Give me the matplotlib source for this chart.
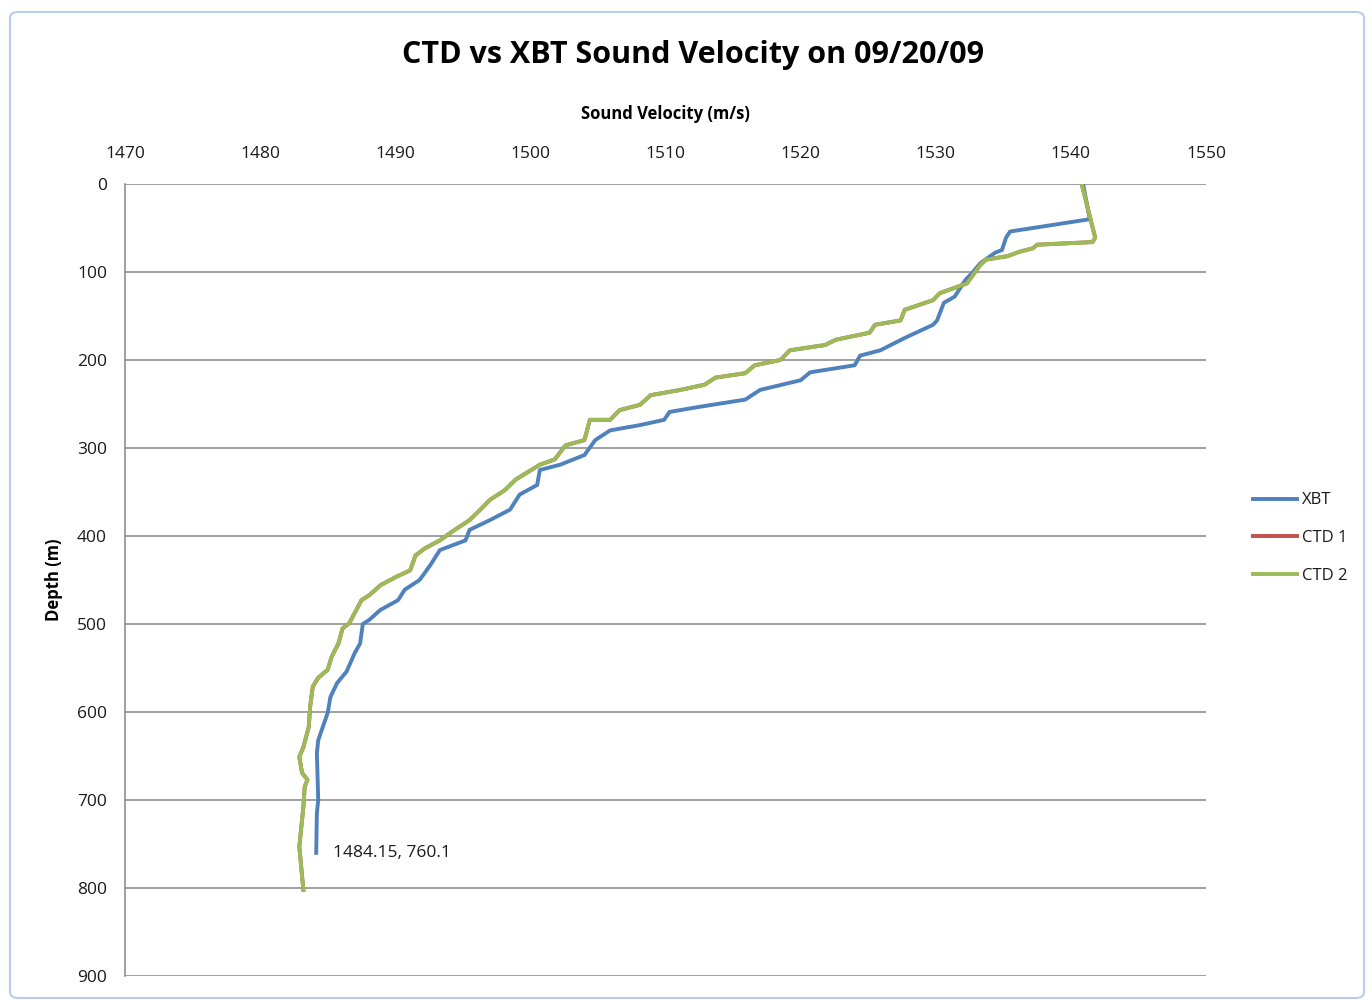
import matplotlib
matplotlib.use("Agg")
import matplotlib.pyplot as plt
from matplotlib.patches import FancyBboxPatch

plt.rcParams['font.family'] = ['Open Sans', 'DejaVu Sans']

title = "CTD vs XBT Sound Velocity on 09/20/09"
x_label = "Sound Velocity (m/s)"
y_label = "Depth (m)"
x_ticks = [1470, 1480, 1490, 1500, 1510, 1520, 1530, 1540, 1550]
y_ticks = [0, 100, 200, 300, 400, 500, 600, 700, 800, 900]

xbt_vel = [1540.9, 1541.4, 1535.5, 1535.2, 1534.9, 1534.4, 1533.3, 1532.7, 1532.2, 1531.4,
           1530.6, 1530.1, 1529.8, 1527.7, 1525.9, 1524.4, 1524.0, 1520.7, 1520.0, 1517.0,
           1515.9, 1512.6, 1510.3, 1509.9, 1508.1, 1505.9, 1504.8, 1504.0, 1502.2, 1500.7,
           1500.5, 1499.2, 1498.5, 1497.0, 1495.5, 1495.2, 1493.3, 1492.6, 1491.8, 1490.7,
           1490.2, 1488.9, 1488.1, 1487.6, 1487.4, 1487.0, 1486.4, 1485.7, 1485.2, 1485.0,
           1484.3, 1484.2, 1484.3, 1484.2, 1484.15]
xbt_depth = [0, 40, 54, 61, 75, 78, 90, 101, 109, 128,
             135, 155, 160, 175, 189, 195, 206, 214, 223, 234,
             245, 253, 259, 268, 274, 280, 291, 308, 319, 325,
             342, 353, 370, 382, 393, 405, 416, 433, 450, 461,
             473, 484, 495, 500, 522, 533, 554, 567, 583, 601,
             632, 647, 700, 715, 760.1]

ctd_vel = [1540.8, 1541.8, 1541.6, 1537.5, 1537.2, 1536.2, 1535.3, 1533.7, 1533.3, 1532.3,
           1531.4, 1530.3, 1529.8, 1527.7, 1527.4, 1525.5, 1525.1, 1522.6, 1521.8, 1519.2,
           1518.5, 1516.6, 1515.9, 1513.7, 1512.9, 1511.1, 1508.9, 1508.1, 1506.6, 1505.9,
           1504.4, 1504.0, 1502.6, 1501.8, 1500.7, 1498.9, 1498.1, 1497.0, 1496.3, 1495.5,
           1494.4, 1493.3, 1492.2, 1491.5, 1491.1, 1490.0, 1488.9, 1488.1, 1487.5, 1486.6,
           1486.1, 1485.8, 1485.3, 1485.0, 1484.3, 1483.9, 1483.7, 1483.6, 1483.2, 1482.9,
           1483.1, 1483.5, 1483.3, 1483.2, 1483.1, 1482.9, 1483.2]
ctd_depth = [0, 61, 66, 69, 73, 77, 82, 86, 92, 113,
             118, 124, 132, 143, 155, 160, 169, 177, 183, 189,
             200, 206, 215, 220, 228, 234, 240, 251, 257, 268,
             268, 291, 297, 313, 319, 336, 348, 359, 370, 382,
             393, 405, 414, 422, 439, 447, 456, 467, 473, 499,
             505, 522, 537, 552, 561, 571, 594, 617, 640, 651,
             669, 677, 685, 708, 723, 753, 802]

annotation_text = "1484.15, 760.1"

fig = plt.figure(figsize=(13.72, 10.0), dpi=100)
fig.patch.set_facecolor('white')

border = FancyBboxPatch((10 / 1372, 2 / 1000), 1354 / 1372, 986 / 1000,
                        boxstyle="round,pad=0,rounding_size=0.006",
                        transform=fig.transFigure, facecolor='none',
                        edgecolor='#b9cde5', linewidth=1.5)
fig.patches.append(border)

ax = fig.add_axes([125 / 1372, 24 / 1000, (1206 - 125) / 1372, (976 - 184) / 1000])

ax.plot(xbt_vel, xbt_depth, color='#4F81BD', lw=2.8, label='XBT', zorder=3)
ax.plot(ctd_vel, ctd_depth, color='#C0504D', lw=2.8, label='CTD 1', zorder=3)
ax.plot(ctd_vel, ctd_depth, color='#9BBB59', lw=2.8, label='CTD 2', zorder=4)

ax.set_xlim(1470, 1550)
ax.set_ylim(900, 0)
ax.set_xticks(x_ticks)
ax.set_yticks(y_ticks)
ax.xaxis.tick_top()
ax.xaxis.set_label_position('top')
ax.tick_params(axis='both', length=0, labelsize=12.5, colors='#1a1a1a')
ax.tick_params(axis='x', pad=16)
ax.tick_params(axis='y', pad=13)
ax.grid(axis='y', color='#868686', lw=1.1)
ax.set_axisbelow(True)
for s in ['top', 'right', 'bottom']:
    ax.spines[s].set_visible(False)
ax.spines['left'].set_color('#868686')
ax.spines['left'].set_linewidth(1.1)

ax.set_xlabel(x_label, fontsize=12, fontweight='bold', labelpad=19)
ax.set_ylabel(y_label, fontsize=12, fontweight='bold', labelpad=10)

ax.annotate(annotation_text, xy=(xbt_vel[-1], xbt_depth[-1]), xytext=(12, 0),
            textcoords='offset points', fontsize=12.5, va='center', ha='left', color='#1a1a1a')

fig.text(693 / 1372, 1 - 55 / 1000, title, fontsize=22, fontweight='bold',
         ha='center', va='center')

leg = ax.legend(loc='center left', bbox_to_anchor=(1.03, 0.553), frameon=False,
                fontsize=12, handlelength=2.6, handletextpad=0.3, labelspacing=1.3)
for t in leg.get_texts():
    t.set_color('#1a1a1a')

fig.savefig('out.png', dpi=100)
